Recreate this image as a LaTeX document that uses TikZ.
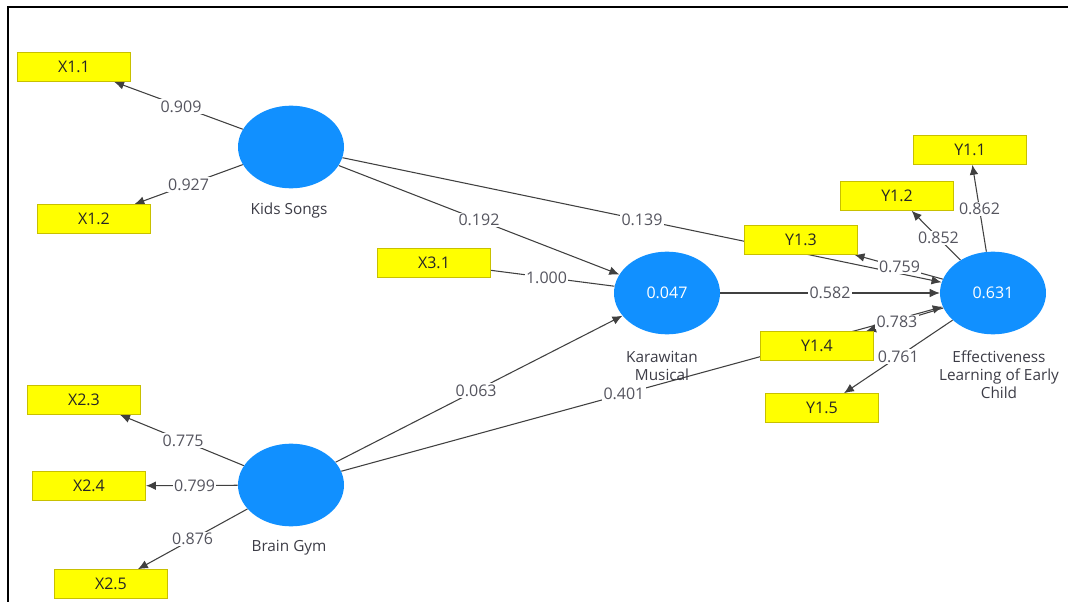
\documentclass[tikz,border=0pt]{standalone}
\usepackage{fontspec}
\setmainfont{Open Sans}
\usetikzlibrary{arrows.meta,backgrounds,shapes.geometric}
\definecolor{boxyellow}{HTML}{FFFF00}
\definecolor{boxedge}{HTML}{C8C000}
\definecolor{lvblue}{HTML}{1190FF}
\definecolor{edgegray}{HTML}{404040}
\definecolor{labgray}{HTML}{55555F}
\definecolor{txtgray}{HTML}{3C3C46}
\begin{document}
\begin{tikzpicture}[x=0.75pt,y=-0.75pt,
  indbox/.style={draw=boxedge,fill=boxyellow,minimum width=85pt,minimum height=21.75pt,inner sep=0pt,
    font=\fontsize{12}{13}\selectfont,text=black!85},
  latent/.style={ellipse,fill=lvblue,minimum width=79.5pt,minimum height=62pt,inner sep=0pt,
    text=white,font=\fontsize{12}{13}\selectfont},
  caption/.style={align=center,text=txtgray,font=\fontsize{11.5}{13.5}\selectfont},
  pathto/.style={draw=edgegray,line width=0.8pt,-{Latex[length=7.5pt,width=6.5pt]}},
  plainline/.style={draw=edgegray,line width=0.8pt},
  coef/.style={fill=white,inner sep=1pt,text=labgray,font=\fontsize{12}{13}\selectfont}]
\useasboundingbox (0,0) rectangle (1068,602);
\draw[line width=1.5pt] (8,602) -- (8,7) -- (1068,7);

% indicators
\node[indbox] (x11) at (74,67) {X1.1};
\node[indbox] (x12) at (94,219) {X1.2};
\node[indbox] (x31) at (434,263) {X3.1};
\node[indbox] (x23) at (84,400) {X2.3};
\node[indbox] (x24) at (89,486) {X2.4};
\node[indbox] (x25) at (111,584) {X2.5};
\node[indbox] (y11) at (970,150) {Y1.1};
\node[indbox] (y12) at (897,196) {Y1.2};
\node[indbox] (y13) at (801,240) {Y1.3};
\node[indbox] (y14) at (817,346) {Y1.4};
\node[indbox] (y15) at (822,408) {Y1.5};

% latent variables
\node[latent] (ks) at (291,147) {};
\node[latent] (bg) at (291,485) {};
\node[latent] (km) at (667,293) {0.047};
\node[latent] (el) at (993,293) {0.631};

\node[caption] (ksl) at (289,211) {Kids Songs};
\node[caption] (bgl) at (289,548) {Brain Gym};
\node[caption] (kml) at (662,366) {Karawitan\\Musical};
\node[caption] (ell) at (999,375) {Effectiveness\\Learning of Early\\Child};

\begin{scope}[on background layer]
\draw[pathto] (ks) -- node[coef,pos=0.48] {0.909} (x11);
\draw[pathto] (ks) -- node[coef,pos=0.5] {0.927} (x12);
\draw[pathto] (ks) -- node[coef,pos=0.5] {0.192} (km);
\draw[pathto] (ks) -- node[coef,pos=0.5] {0.139} (el);
\draw[plainline] (x31) -- node[coef,pos=0.45] {1.000} (km);
\draw[pathto] (km) -- node[coef,pos=0.5] {0.582} (el);
\draw[pathto] (bg) -- node[coef,pos=0.49] {0.063} (km);
\draw[pathto] (bg) -- node[coef,pos=0.47] {0.401} (el);
\draw[pathto] (bg) -- node[coef,pos=0.49] {0.775} (x23);
\draw[pathto] (bg) -- node[coef,pos=0.47] {0.799} (x24);
\draw[pathto] (bg) -- node[coef,pos=0.5] {0.876} (x25);
\draw[pathto] (el) -- node[coef,pos=0.49] {0.862} (y11);
\draw[pathto] (el) -- node[coef,pos=0.45] {0.852} (y12);
\draw[pathto] (el) -- node[coef,pos=0.49] {0.759} (y13);
\draw[pathto] (el) -- node[coef,pos=0.6] {0.783} (y14);
\draw[pathto] (el) -- node[coef,pos=0.5] {0.761} (y15);
\end{scope}
\end{tikzpicture}
\end{document}
